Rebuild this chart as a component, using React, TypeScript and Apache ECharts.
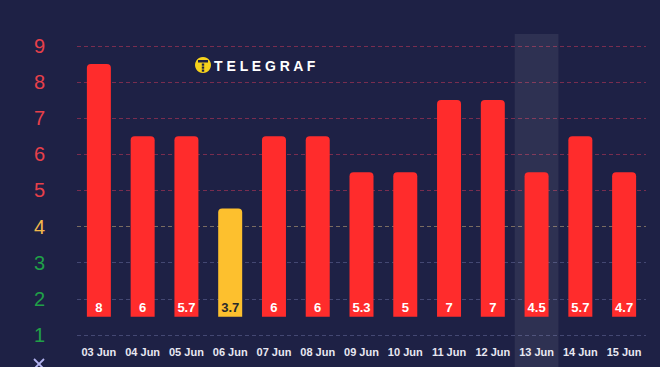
import React, { useEffect, useRef } from 'react';
import * as echarts from 'echarts';

const categories = ['03 Jun', '04 Jun', '05 Jun', '06 Jun', '07 Jun', '08 Jun', '09 Jun', '10 Jun', '11 Jun', '12 Jun', '13 Jun', '14 Jun', '15 Jun'];
const values = [8, 6, 5.7, 3.7, 6, 6, 5.3, 5, 7, 7, 4.5, 5.7, 4.7];
const barTops = [8.5, 6.5, 6.5, 4.5, 6.5, 6.5, 5.5, 5.5, 7.5, 7.5, 5.5, 6.5, 5.5];
const barBase = 1.5;
const highlightIndex = 10;
const yMax = 9.33;

const RED = '#ff2c2c';
const YELLOW = '#fdc02e';
const GREEN = '#22a84a';

const levelColor = (v: number) => (v >= 5 ? RED : v >= 4 ? YELLOW : GREEN);
const labelColor = (v: number) => (v >= 5 ? '#e8404a' : v >= 4 ? '#f2b84b' : '#20a048');

export default function App() {
  const ref = useRef<HTMLDivElement>(null);
  useEffect(() => {
    if (!ref.current) return;
    const chart = echarts.init(ref.current, undefined, { renderer: 'svg' });
    const lineRed = 'rgba(232,60,90,0.45)';
    const lineYellow = 'rgba(235,200,130,0.45)';
    const lineGrey = 'rgba(140,145,200,0.35)';
    const splitColors = ['rgba(0,0,0,0)', lineGrey, lineGrey, lineGrey, lineYellow, lineRed, lineRed, lineRed, lineRed, lineRed, 'rgba(0,0,0,0)'];
    chart.setOption({
      animation: false,
      backgroundColor: '#1e2145',
      grid: { left: 77, right: 14, top: 34, bottom: 0, outerBoundsMode: 'none', containLabel: false },
      xAxis: [
        {
          type: 'category',
          data: categories,
          offset: -33,
          axisLine: { show: false },
          axisTick: { show: false },
          splitLine: { show: false },
          axisLabel: { interval: 0, margin: 8, color: '#e8e8f2', fontSize: 11, fontWeight: 'bold', fontFamily: 'Liberation Sans, Arial, sans-serif' },
        },
        { type: 'category', data: categories, show: false },
      ],
      yAxis: {
        type: 'value',
        min: 0,
        max: yMax,
        interval: 1,
        axisLine: { show: false },
        axisTick: { show: false },
        axisLabel: {
          margin: 32,
          fontSize: 20,
          fontFamily: 'Liberation Sans, Arial, sans-serif',
          formatter: (v: number) => (Number.isInteger(v) && v >= 1 ? String(v) : ''),
          color: (v: any) => labelColor(Number(v)),
        },
        splitLine: { show: true, lineStyle: { type: [4, 3], width: 1, color: splitColors } },
      },
      series: [
        {
          type: 'bar',
          xAxisIndex: 1,
          z: 1,
          barWidth: '100%',
          silent: true,
          itemStyle: { color: 'rgba(255,255,255,0.075)' },
          data: categories.map((_, i) => (i === highlightIndex ? yMax : '-')),
        },
        {
          type: 'bar',
          stack: 'a',
          barWidth: 24,
          silent: true,
          itemStyle: { color: 'rgba(0,0,0,0)' },
          data: categories.map(() => barBase),
        },
        {
          type: 'bar',
          stack: 'a',
          barWidth: 24,
          data: barTops.map((t) => ({
            value: t - barBase,
            itemStyle: { color: levelColor(t), borderRadius: [4, 4, 0, 0] },
            label: { color: t >= 5 ? '#ffffff' : '#2a2a2a' },
          })),
          label: {
            show: true,
            position: 'insideBottom',
            distance: 3,
            fontSize: 13,
            fontWeight: 'bold',
            fontFamily: 'Liberation Sans, Arial, sans-serif',
            formatter: (p: any) => String(values[p.dataIndex]),
          },
        },
      ],
      graphic: [
        { type: 'circle', shape: { cx: 203, cy: 65, r: 8 }, style: { fill: '#f6d21c' } },
        { type: 'rect', shape: { x: 198, y: 60, width: 10, height: 2.5 }, style: { fill: '#1e2145' } },
        { type: 'rect', shape: { x: 201.8, y: 63.5, width: 2.4, height: 2.2 }, style: { fill: '#1e2145' } },
        { type: 'rect', shape: { x: 201.8, y: 66.5, width: 2.4, height: 2.2 }, style: { fill: '#1e2145' } },
        { type: 'rect', shape: { x: 201.8, y: 69.5, width: 2.4, height: 2.2 }, style: { fill: '#1e2145' } },
        {
          type: 'text',
          x: 214,
          y: 66,
          style: { text: 'T E L E G R A F', fill: '#ffffff', font: 'bold 14px "Liberation Sans", Arial, sans-serif', verticalAlign: 'middle', align: 'left' },
        },
        { type: 'line', shape: { x1: 34, y1: 359, x2: 44, y2: 369 }, style: { stroke: '#b4b4f0', lineWidth: 1.8 } },
        { type: 'line', shape: { x1: 44, y1: 359, x2: 34, y2: 369 }, style: { stroke: '#b4b4f0', lineWidth: 1.8 } },
      ],
    });
    return () => chart.dispose();
  }, []);
  return (
    <div style={{ position: 'absolute', left: 0, top: 0, width: 660, height: 367, overflow: 'hidden', background: '#1e2145' }}>
      <div ref={ref} style={{ width: 660, height: 371 }} />
    </div>
  );
}
